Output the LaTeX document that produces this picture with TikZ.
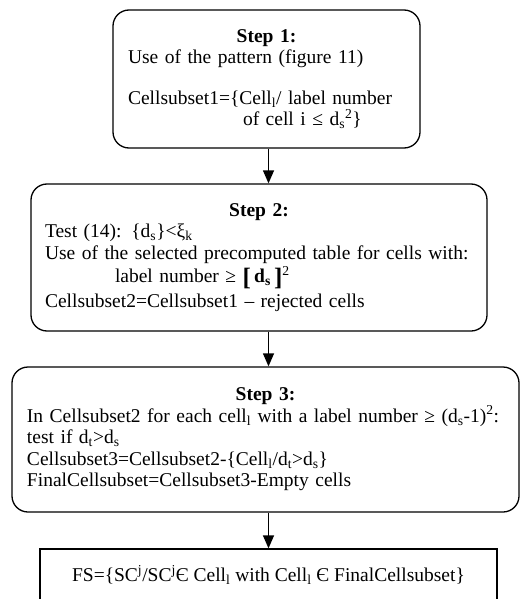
\documentclass[tikz,border=0pt]{standalone}
\usepackage{fontspec}
\setmainfont{Liberation Serif}
\usepackage{amsmath}
\usepackage{amssymb}
\usetikzlibrary{positioning, calc, shapes, arrows.meta}
\tikzstyle{Arrow} = [
%arrow between the steps
line width = 1.3pt,
-{Triangle[width = 11pt, length = 13pt]}
]

\begin{document}
\begin{tikzpicture}[
				x = 1pt, y = -1pt,
				stepbox/.style = {rectangle, draw, line width = 1.3pt, rounded corners = 16pt, font = \fontsize{19.5}{21.5}\selectfont, inner ysep = 0pt},
				resultbox/.style = {rectangle, draw, line width = 1.3pt, font = \fontsize{19.5}{21.5}\selectfont, inner sep = 0pt, align = center},
			]
			\useasboundingbox (0,0) rectangle (523,599);

			\node[stepbox, inner xsep = 15pt, text width = 277pt, minimum height = 138pt](S1) at (266.5,79){%
				\centering\textbf{Step 1:}\par
				\raggedright Use of the pattern (figure 11)\par
				\vspace{19pt}
				Cellsubset1=\{Cell\textsubscript{l}/ label number\par
				\hspace*{115pt}of cell i ≤ d\textsubscript{s}\textsuperscript{2}\}\par};
			\node[stepbox, inner xsep = 14pt, text width = 428pt, minimum height = 147pt](S2) at (259,257.5){%
				\centering\textbf{Step 2:}\par
				\raggedright Test (14): \{d\textsubscript{s}\}<ξ\textsubscript{k}\par
				Use of the selected precomputed table for cells with:\par
				\vspace{2pt}
				\hspace*{70pt}label number ≥ \raisebox{-2.5pt}{\fontsize{25}{25}\selectfont\textbf{[}}\,\textbf{d\textsubscript{s}}\,\raisebox{-2.5pt}{\fontsize{25}{25}\selectfont\textbf{]}}\textsuperscript{2}\par
				\vspace{3pt}
				Cellsubset2=Cellsubset1 – rejected cells\par};
			\node[stepbox, inner xsep = 15pt, text width = 477pt, minimum height = 145pt](S3) at (265.5,439.5){%
				\centering\textbf{Step 3:}\par
				\raggedright In Cellsubset2 for each cell\textsubscript{l} with a label number ≥ (d\textsubscript{s}-1)\textsuperscript{2}:\par
				test if d\textsubscript{t}>d\textsubscript{s}\par
				Cellsubset3=Cellsubset2-\{Cell\textsubscript{l}/d\textsubscript{t}>d\textsubscript{s}\}\par
				FinalCellsubset=Cellsubset3-Empty cells\par};
			\node[resultbox, minimum width = 457pt, minimum height = 52pt](FS) at (268.5,575){FS=\{SC\textsuperscript{j}/SC\textsuperscript{j}Є Cell\textsubscript{l} with Cell\textsubscript{l} Є FinalCellsubset\}};

			\draw[Arrow](S1.south -| FS.north)--(S2.north -| FS.north);
			\draw[Arrow](S2.south -| FS.north)--(S3.north -| FS.north);
			\draw[Arrow](S3.south -| FS.north)--(FS.north);

		\end{tikzpicture}
\end{document}
